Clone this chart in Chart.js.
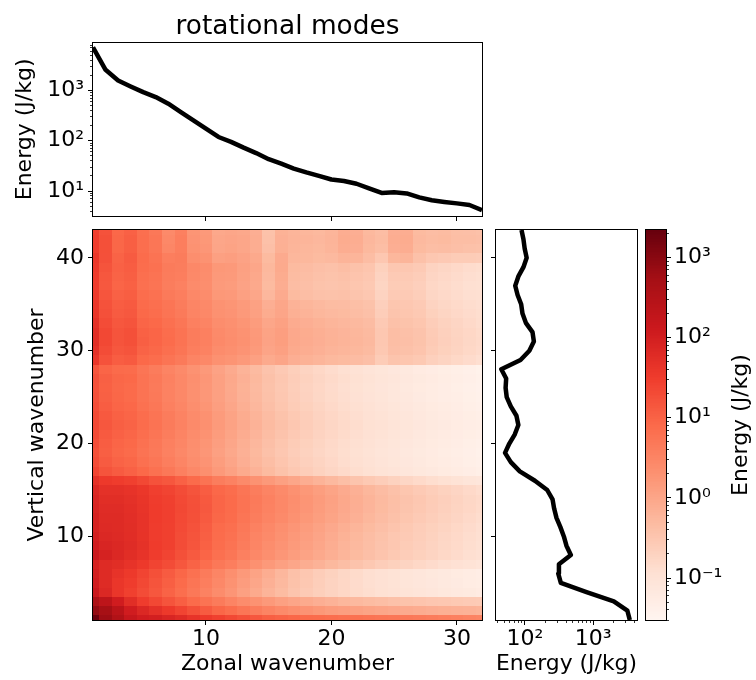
<!DOCTYPE html>
<html>
<head>
<meta charset="utf-8">
<script src="https://cdn.jsdelivr.net/npm/chart.js@4.4.1/dist/chart.umd.min.js"></script>
<style>
  body { margin: 0; background: #fff; }
  #fig { position: relative; width: 756px; height: 680px; }
  canvas { position: absolute; }
</style>
</head>
<body>
<div id="fig">
  <canvas id="topChart" width="490" height="228" style="left:0;top:0"></canvas>
  <canvas id="heatChart" width="490" height="452" style="left:0;top:228px"></canvas>
  <canvas id="sideChart" width="152" height="452" style="left:490px;top:228px"></canvas>
  <canvas id="cbarChart" width="116" height="452" style="left:640px;top:228px"></canvas>
</div>
<script>
// zonal wavenumbers (x) and vertical wavenumbers (y)
const zonalWavenumbers = Array.from({ length: 32 }, (_, i) => i + 1);
const verticalWavenumbers = Array.from({ length: 43 }, (_, i) => i + 1);

// energy summed over vertical wavenumbers, per zonal wavenumber (J/kg)
const zonalEnergy = [7200, 2570, 1580, 1200, 925, 740, 545, 372, 254, 174, 119, 95, 73, 57, 43, 35,
  28, 23.5, 20, 17, 15.9, 14, 11.3, 9.2, 9.5, 9.0, 7.5, 6.6, 6.1, 5.7, 5.3, 4.2];

// energy summed over zonal wavenumbers, per vertical wavenumber (J/kg)
const verticalEnergy = [3450, 3180, 2010, 800, 336, 308, 315, 471, 406, 372, 331, 290, 268, 254, 212, 140,
  84, 62, 51, 59, 71, 80, 75, 62, 54, 52, 53, 45, 86, 116, 135, 129, 103, 92, 88, 78, 72, 80, 95, 106, 99, 95, 89];

// log10 of energy (J/kg); one row per vertical wavenumber (1 at the bottom), 32 zonal wavenumbers each
const heatLog10 = [
  [3.3, 2.8, 2.55, 2.2, 2.05, 2.0, 1.9, 1.8, 1.65, 1.55, 1.45, 1.35, 1.25, 1.15, 1.05, 1.0, 0.95, 0.9, 0.88, 0.85, 0.82, 0.8, 0.77, 0.74, 0.72, 0.7, 0.67, 0.64, 0.6, 0.57, 0.53, 0.5],
  [2.9, 2.7, 2.4, 2.05, 1.85, 1.7, 1.55, 1.4, 1.25, 1.1, 0.95, 0.85, 0.72, 0.62, 0.52, 0.42, 0.35, 0.28, 0.22, 0.16, 0.12, 0.08, 0.04, 0.0, -0.03, -0.06, -0.09, -0.12, -0.14, -0.16, -0.18, -0.2],
  [2.6, 2.35, 2.05, 1.75, 1.5, 1.35, 1.2, 1.05, 0.9, 0.78, 0.65, 0.52, 0.4, 0.3, 0.2, 0.1, 0.02, -0.05, -0.12, -0.18, -0.24, -0.28, -0.32, -0.36, -0.4, -0.43, -0.46, -0.49, -0.51, -0.53, -0.55, -0.57],
  [2.15, 1.85, 1.6, 1.45, 1.3, 1.15, 1.0, 0.85, 0.7, 0.55, 0.4, 0.25, 0.1, -0.05, -0.2, -0.32, -0.45, -0.55, -0.63, -0.7, -0.77, -0.83, -0.88, -0.93, -0.98, -1.02, -1.06, -1.1, -1.14, -1.17, -1.2, -1.23],
  [2.05, 1.8, 1.6, 1.5, 1.35, 1.2, 1.05, 0.9, 0.75, 0.6, 0.45, 0.3, 0.15, 0.0, -0.15, -0.28, -0.42, -0.52, -0.62, -0.7, -0.77, -0.84, -0.9, -0.95, -1.0, -1.05, -1.09, -1.13, -1.17, -1.21, -1.25, -1.28],
  [2.0, 1.8, 1.65, 1.55, 1.4, 1.25, 1.1, 0.95, 0.8, 0.65, 0.5, 0.35, 0.2, 0.05, -0.1, -0.25, -0.4, -0.5, -0.6, -0.68, -0.76, -0.83, -0.9, -0.95, -1.0, -1.05, -1.1, -1.14, -1.18, -1.22, -1.26, -1.3],
  [1.95, 1.8, 1.75, 1.65, 1.55, 1.4, 1.3, 1.15, 1.0, 0.85, 0.7, 0.6, 0.45, 0.32, 0.2, 0.1, 0.0, -0.1, -0.18, -0.27, -0.36, -0.44, -0.52, -0.6, -0.66, -0.72, -0.78, -0.84, -0.9, -0.95, -1.0, -1.05],
  [2.15, 1.95, 1.85, 1.75, 1.65, 1.5, 1.4, 1.25, 1.12, 0.98, 0.82, 0.72, 0.58, 0.45, 0.34, 0.24, 0.14, 0.05, -0.04, -0.13, -0.22, -0.3, -0.38, -0.46, -0.53, -0.6, -0.66, -0.72, -0.78, -0.84, -0.9, -0.95],
  [2.05, 1.9, 1.85, 1.78, 1.68, 1.52, 1.45, 1.3, 1.18, 1.03, 0.86, 0.78, 0.63, 0.5, 0.38, 0.28, 0.18, 0.09, 0.0, -0.1, -0.2, -0.28, -0.36, -0.44, -0.51, -0.58, -0.64, -0.7, -0.76, -0.82, -0.88, -0.93],
  [2.0, 1.85, 1.82, 1.76, 1.66, 1.5, 1.45, 1.3, 1.2, 1.05, 0.88, 0.8, 0.66, 0.52, 0.42, 0.31, 0.21, 0.12, 0.03, -0.07, -0.17, -0.26, -0.34, -0.42, -0.5, -0.56, -0.62, -0.68, -0.75, -0.8, -0.86, -0.92],
  [1.95, 1.82, 1.8, 1.75, 1.65, 1.5, 1.45, 1.32, 1.22, 1.08, 0.9, 0.83, 0.7, 0.56, 0.46, 0.35, 0.25, 0.16, 0.07, -0.03, -0.13, -0.22, -0.3, -0.38, -0.46, -0.53, -0.6, -0.66, -0.72, -0.78, -0.84, -0.9],
  [1.95, 1.8, 1.8, 1.74, 1.65, 1.52, 1.46, 1.34, 1.25, 1.12, 0.95, 0.88, 0.75, 0.62, 0.52, 0.42, 0.32, 0.22, 0.13, 0.04, -0.06, -0.15, -0.24, -0.33, -0.41, -0.48, -0.55, -0.62, -0.68, -0.74, -0.8, -0.86],
  [1.92, 1.78, 1.78, 1.72, 1.64, 1.52, 1.46, 1.35, 1.26, 1.14, 0.98, 0.9, 0.78, 0.65, 0.55, 0.45, 0.35, 0.25, 0.16, 0.07, -0.03, -0.12, -0.21, -0.3, -0.38, -0.45, -0.52, -0.59, -0.65, -0.71, -0.77, -0.83],
  [1.9, 1.75, 1.75, 1.7, 1.62, 1.5, 1.45, 1.34, 1.25, 1.13, 0.98, 0.9, 0.78, 0.66, 0.56, 0.46, 0.36, 0.26, 0.17, 0.08, -0.02, -0.11, -0.2, -0.29, -0.37, -0.44, -0.51, -0.58, -0.64, -0.7, -0.76, -0.82],
  [1.85, 1.7, 1.7, 1.65, 1.58, 1.46, 1.4, 1.3, 1.2, 1.08, 0.93, 0.86, 0.74, 0.62, 0.52, 0.42, 0.32, 0.22, 0.13, 0.04, -0.06, -0.15, -0.24, -0.33, -0.41, -0.48, -0.55, -0.62, -0.68, -0.74, -0.8, -0.86],
  [1.7, 1.55, 1.5, 1.45, 1.35, 1.22, 1.15, 1.02, 0.9, 0.78, 0.62, 0.55, 0.42, 0.3, 0.2, 0.1, 0.0, -0.1, -0.19, -0.28, -0.37, -0.45, -0.53, -0.61, -0.68, -0.75, -0.82, -0.88, -0.94, -1.0, -1.05, -1.1],
  [1.4, 1.2, 1.1, 1.02, 0.92, 0.8, 0.7, 0.58, 0.45, 0.35, 0.2, 0.08, -0.05, -0.18, -0.3, -0.42, -0.52, -0.6, -0.68, -0.75, -0.82, -0.88, -0.94, -0.99, -1.04, -1.09, -1.14, -1.18, -1.22, -1.26, -1.3, -1.34],
  [1.3, 1.1, 1.0, 0.95, 0.82, 0.72, 0.6, 0.5, 0.38, 0.28, 0.14, 0.02, -0.12, -0.24, -0.36, -0.47, -0.57, -0.65, -0.72, -0.79, -0.86, -0.92, -0.98, -1.03, -1.08, -1.13, -1.18, -1.22, -1.26, -1.3, -1.34, -1.38],
  [1.25, 1.05, 0.95, 0.9, 0.78, 0.68, 0.56, 0.46, 0.34, 0.24, 0.1, -0.02, -0.15, -0.27, -0.4, -0.5, -0.6, -0.68, -0.75, -0.82, -0.88, -0.94, -1.0, -1.05, -1.1, -1.15, -1.2, -1.24, -1.28, -1.32, -1.36, -1.4],
  [1.28, 1.08, 0.98, 0.92, 0.8, 0.7, 0.58, 0.48, 0.36, 0.26, 0.12, 0.0, -0.13, -0.25, -0.38, -0.48, -0.58, -0.66, -0.73, -0.8, -0.86, -0.92, -0.98, -1.03, -1.08, -1.13, -1.18, -1.22, -1.26, -1.3, -1.34, -1.38],
  [1.32, 1.12, 1.02, 0.96, 0.85, 0.75, 0.62, 0.52, 0.4, 0.3, 0.16, 0.04, -0.09, -0.21, -0.34, -0.44, -0.54, -0.62, -0.7, -0.77, -0.83, -0.89, -0.95, -1.0, -1.05, -1.1, -1.15, -1.19, -1.23, -1.27, -1.31, -1.35],
  [1.35, 1.15, 1.05, 1.0, 0.88, 0.78, 0.65, 0.55, 0.43, 0.33, 0.19, 0.07, -0.06, -0.18, -0.31, -0.41, -0.51, -0.6, -0.68, -0.75, -0.81, -0.87, -0.93, -0.98, -1.03, -1.08, -1.13, -1.17, -1.21, -1.25, -1.29, -1.33],
  [1.33, 1.13, 1.03, 0.98, 0.86, 0.76, 0.63, 0.53, 0.41, 0.31, 0.17, 0.05, -0.08, -0.2, -0.33, -0.43, -0.53, -0.62, -0.7, -0.77, -0.83, -0.89, -0.95, -1.0, -1.05, -1.1, -1.15, -1.19, -1.23, -1.27, -1.31, -1.35],
  [1.28, 1.08, 0.98, 0.93, 0.81, 0.71, 0.58, 0.48, 0.36, 0.26, 0.12, 0.0, -0.13, -0.25, -0.38, -0.48, -0.58, -0.66, -0.73, -0.8, -0.86, -0.92, -0.98, -1.03, -1.08, -1.13, -1.18, -1.22, -1.26, -1.3, -1.34, -1.38],
  [1.24, 1.04, 0.95, 0.9, 0.78, 0.68, 0.55, 0.45, 0.33, 0.23, 0.09, -0.03, -0.16, -0.28, -0.41, -0.51, -0.61, -0.69, -0.76, -0.83, -0.89, -0.95, -1.01, -1.06, -1.11, -1.16, -1.21, -1.25, -1.29, -1.33, -1.37, -1.41],
  [1.23, 1.03, 0.94, 0.9, 0.77, 0.67, 0.55, 0.45, 0.33, 0.23, 0.09, -0.04, -0.17, -0.29, -0.42, -0.52, -0.62, -0.7, -0.77, -0.84, -0.9, -0.96, -1.02, -1.07, -1.12, -1.17, -1.22, -1.26, -1.3, -1.34, -1.38, -1.42],
  [1.24, 1.04, 0.95, 0.92, 0.78, 0.68, 0.56, 0.46, 0.34, 0.24, 0.1, -0.02, -0.15, -0.27, -0.4, -0.5, -0.6, -0.68, -0.75, -0.82, -0.88, -0.94, -1.0, -1.05, -1.1, -1.15, -1.2, -1.24, -1.28, -1.32, -1.36, -1.4],
  [1.18, 0.98, 0.9, 0.88, 0.74, 0.64, 0.52, 0.42, 0.3, 0.2, 0.06, -0.06, -0.19, -0.31, -0.44, -0.54, -0.63, -0.71, -0.78, -0.85, -0.91, -0.97, -1.03, -1.08, -1.13, -1.18, -1.23, -1.27, -1.31, -1.35, -1.39, -1.43],
  [1.6, 1.22, 1.08, 1.12, 0.92, 0.86, 0.76, 0.66, 0.52, 0.46, 0.32, 0.27, 0.2, 0.1, -0.05, 0.02, -0.12, -0.17, -0.22, -0.27, -0.3, -0.33, -0.38, -0.58, -0.45, -0.48, -0.53, -0.65, -0.72, -0.78, -0.84, -0.9],
  [1.7, 1.3, 1.15, 1.2, 1.0, 0.94, 0.84, 0.74, 0.6, 0.54, 0.4, 0.35, 0.28, 0.18, 0.03, 0.1, -0.05, -0.1, -0.15, -0.2, -0.23, -0.26, -0.31, -0.52, -0.38, -0.41, -0.46, -0.58, -0.66, -0.72, -0.78, -0.84],
  [1.75, 1.35, 1.2, 1.25, 1.05, 0.98, 0.88, 0.78, 0.64, 0.58, 0.44, 0.38, 0.31, 0.21, 0.06, 0.13, -0.02, -0.07, -0.12, -0.17, -0.2, -0.23, -0.28, -0.5, -0.35, -0.38, -0.43, -0.56, -0.64, -0.7, -0.76, -0.82],
  [1.75, 1.35, 1.2, 1.25, 1.03, 0.97, 0.87, 0.77, 0.63, 0.57, 0.43, 0.37, 0.3, 0.2, 0.05, 0.12, -0.03, -0.08, -0.13, -0.18, -0.21, -0.24, -0.29, -0.5, -0.36, -0.39, -0.44, -0.57, -0.65, -0.71, -0.77, -0.83],
  [1.7, 1.3, 1.15, 1.2, 0.98, 0.92, 0.82, 0.72, 0.58, 0.52, 0.38, 0.33, 0.26, 0.16, 0.0, 0.08, -0.07, -0.12, -0.17, -0.22, -0.25, -0.28, -0.33, -0.54, -0.4, -0.43, -0.48, -0.6, -0.68, -0.74, -0.8, -0.86],
  [1.62, 1.24, 1.1, 1.14, 0.92, 0.86, 0.76, 0.66, 0.52, 0.46, 0.32, 0.28, 0.2, 0.1, -0.08, 0.02, -0.14, -0.19, -0.24, -0.28, -0.3, -0.34, -0.39, -0.6, -0.45, -0.48, -0.53, -0.66, -0.73, -0.79, -0.84, -0.88],
  [1.6, 1.22, 1.08, 1.12, 0.9, 0.84, 0.74, 0.64, 0.5, 0.44, 0.3, 0.26, 0.18, 0.08, -0.12, 0.0, -0.18, -0.23, -0.28, -0.32, -0.33, -0.37, -0.42, -0.64, -0.48, -0.5, -0.56, -0.7, -0.76, -0.82, -0.86, -0.9],
  [1.55, 1.18, 1.02, 1.07, 0.86, 0.8, 0.66, 0.6, 0.45, 0.4, 0.22, 0.2, 0.1, 0.0, -0.25, -0.06, -0.3, -0.35, -0.4, -0.42, -0.4, -0.45, -0.5, -0.7, -0.55, -0.56, -0.62, -0.75, -0.8, -0.85, -0.9, -0.92],
  [1.5, 1.14, 0.98, 1.03, 0.82, 0.76, 0.62, 0.56, 0.41, 0.36, 0.18, 0.16, 0.06, -0.04, -0.3, -0.1, -0.34, -0.38, -0.43, -0.45, -0.43, -0.48, -0.53, -0.73, -0.58, -0.58, -0.64, -0.77, -0.82, -0.87, -0.92, -0.94],
  [1.52, 1.16, 1.0, 1.05, 0.84, 0.78, 0.64, 0.6, 0.44, 0.38, 0.2, 0.18, 0.08, -0.02, -0.28, -0.08, -0.32, -0.36, -0.41, -0.43, -0.41, -0.46, -0.5, -0.7, -0.55, -0.55, -0.6, -0.74, -0.79, -0.84, -0.89, -0.91],
  [1.55, 1.2, 1.02, 1.08, 0.87, 0.8, 0.65, 0.62, 0.46, 0.4, 0.22, 0.2, 0.1, 0.0, -0.26, -0.05, -0.3, -0.33, -0.38, -0.4, -0.36, -0.42, -0.47, -0.66, -0.5, -0.5, -0.56, -0.7, -0.75, -0.8, -0.85, -0.88],
  [1.58, 1.24, 1.0, 1.1, 0.88, 0.78, 0.6, 0.64, 0.36, 0.3, 0.1, 0.12, 0.06, -0.04, -0.3, -0.06, -0.24, -0.26, -0.3, -0.28, -0.2, -0.22, -0.34, -0.5, -0.24, -0.22, -0.4, -0.5, -0.54, -0.58, -0.58, -0.6],
  [1.5, 1.25, 0.95, 1.05, 0.85, 0.72, 0.48, 0.6, 0.3, 0.24, 0.02, 0.05, 0.0, -0.1, -0.38, -0.14, -0.22, -0.24, -0.27, -0.22, -0.1, -0.12, -0.27, -0.36, -0.12, -0.1, -0.3, -0.36, -0.34, -0.38, -0.4, -0.42],
  [1.5, 1.25, 0.95, 1.05, 0.85, 0.72, 0.45, 0.6, 0.28, 0.22, 0.0, 0.03, 0.0, -0.1, -0.4, -0.15, -0.2, -0.22, -0.25, -0.2, -0.08, -0.1, -0.25, -0.32, -0.1, -0.08, -0.28, -0.32, -0.3, -0.35, -0.36, -0.38],
  [1.48, 1.22, 0.93, 1.02, 0.83, 0.7, 0.43, 0.58, 0.26, 0.2, -0.02, 0.01, -0.02, -0.12, -0.42, -0.17, -0.22, -0.24, -0.27, -0.22, -0.1, -0.12, -0.27, -0.34, -0.12, -0.1, -0.3, -0.34, -0.32, -0.37, -0.38, -0.4]
];

// tick labels
const zonalTicks = [10, 20, 30];
const verticalTicks = [10, 20, 30, 40];
const topEnergyTicks = [10, 100, 1000];
const sideEnergyTicks = [100, 1000];
const cbarTicks = [0.1, 1, 10, 100, 1000];

const cbarMin = 0.03, cbarMax = 2200;

Chart.defaults.font.family = "'DejaVu Sans', sans-serif";
Chart.defaults.color = '#000';

// matplotlib "Reds"
const REDS = ['#fff5f0', '#fee0d2', '#fcbba1', '#fc9272', '#fb6a4a', '#ef3b2c', '#cb181d', '#a50f15', '#67000d'];
const REDS_RGB = REDS.map(h => [1, 3, 5].map(i => parseInt(h.slice(i, i + 2), 16)));
function reds(t) {
  t = Math.min(1, Math.max(0, t));
  const s = t * 8, i = Math.min(7, Math.floor(s)), f = s - i;
  const a = REDS_RGB[i], b = REDS_RGB[i + 1];
  return 'rgb(' + a.map((c, k) => Math.round(c + (b[k] - c) * f)).join(',') + ')';
}
function energyNorm(v) {
  return (Math.log10(v) - Math.log10(cbarMin)) / (Math.log10(cbarMax) - Math.log10(cbarMin));
}

const SUP = { '-': '\u207b', '0': '\u2070', '1': '\u00b9', '2': '\u00b2', '3': '\u00b3', '4': '\u2074' };
function pow10Label(v) {
  const e = String(Math.round(Math.log10(v)));
  return '10' + e.split('').map(c => SUP[c]).join('');
}
function minorValues(min, max) {
  const out = [];
  for (let e = Math.floor(Math.log10(min)); e <= Math.ceil(Math.log10(max)); e++) {
    for (let m = 2; m <= 9; m++) {
      const v = m * Math.pow(10, e);
      if (v >= min && v <= max) out.push(v);
    }
  }
  return out;
}
const fixedTicks = values => scale => { scale.ticks = values.map(v => ({ value: v })); };
const tickGrid = len => ({ drawOnChartArea: false, drawTicks: true, tickLength: len, color: '#000', tickWidth: 1 });

// fixed box size, and no extra room for labels hanging past the ends
function fitBox(size) {
  return s => {
    if (s.isHorizontal()) s.height = size; else s.width = size;
    s.paddingTop = s.paddingBottom = s.paddingLeft = s.paddingRight = 0;
  };
}

// thin axis with the short minor ticks of a log scale, laid right against the frame
function minorAxis(axis, position, min, max) {
  return {
    type: 'logarithmic', axis, position, min, max, bounds: 'data',
    afterBuildTicks: fixedTicks(minorValues(min, max)),
    afterFit: fitBox(0),
    ticks: { display: false },
    grid: { drawOnChartArea: false, drawTicks: true, tickLength: 3, color: '#000', tickWidth: 0.8 },
    border: { display: false }
  };
}

const framePlugin = {
  id: 'frame',
  afterDraw(chart) {
    const { ctx, chartArea: a } = chart;
    ctx.save();
    ctx.strokeStyle = '#000';
    ctx.lineWidth = 1;
    ctx.strokeRect(Math.round(a.left) - 0.5, Math.round(a.top) - 0.5,
      Math.round(a.right - a.left) + 1, Math.round(a.bottom - a.top) + 1);
    ctx.restore();
  }
};

const heatmapPlugin = {
  id: 'heatCells',
  beforeDatasetsDraw(chart) {
    const { ctx, chartArea: a, scales: { x, y } } = chart;
    ctx.save();
    ctx.beginPath();
    ctx.rect(a.left, a.top, a.right - a.left, a.bottom - a.top);
    ctx.clip();
    chart.data.datasets[0].data.forEach(c => {
      const x0 = Math.round(x.getPixelForValue(c.x - 0.5));
      const x1 = Math.round(x.getPixelForValue(c.x + 0.5));
      const y0 = Math.round(y.getPixelForValue(c.y - 0.5));
      const y1 = Math.round(y.getPixelForValue(c.y + 0.5));
      ctx.fillStyle = reds(energyNorm(c.v));
      ctx.fillRect(x0, y1, x1 - x0, y0 - y1);
    });
    ctx.restore();
  }
};

const colorbarPlugin = {
  id: 'cbarFill',
  beforeDatasetsDraw(chart) {
    const { ctx, chartArea: a, scales: { y } } = chart;
    const lo = Math.log10(cbarMin), hi = Math.log10(cbarMax), n = 240;
    for (let i = 0; i < n; i++) {
      const yA = y.getPixelForValue(Math.pow(10, lo + (hi - lo) * i / n));
      const yB = y.getPixelForValue(Math.pow(10, lo + (hi - lo) * (i + 1) / n));
      ctx.fillStyle = reds((i + 0.5) / n);
      ctx.fillRect(a.left, Math.floor(yB), a.right - a.left, Math.ceil(yA) - Math.floor(yB));
    }
  },
  afterDraw(chart) {
    const ctx = chart.ctx;
    ctx.save();
    ctx.translate(101, 197);
    ctx.rotate(-Math.PI / 2);
    ctx.font = "22px 'DejaVu Sans', sans-serif";
    ctx.fillStyle = '#000';
    ctx.textAlign = 'center';
    ctx.textBaseline = 'middle';
    ctx.fillText('Energy (J/kg)', 0, 0);
    ctx.restore();
  }
};

const lineStyle = { borderColor: '#000', borderWidth: 4.5, pointRadius: 0, borderJoinStyle: 'round', showLine: true, clip: 0 };
const common = { responsive: false, animation: false, events: [] };
const noLegend = { legend: { display: false }, tooltip: { enabled: false } };

// upper panel: energy per zonal wavenumber
new Chart(document.getElementById('topChart'), {
  type: 'scatter',
  data: { datasets: [{ ...lineStyle, xAxisID: 'x', yAxisID: 'y',
    data: zonalWavenumbers.map((k, i) => ({ x: k, y: zonalEnergy[i] })) }] },
  options: {
    ...common,
    layout: { padding: { left: 0, right: 8, top: 0, bottom: 0 } },
    plugins: { ...noLegend,
      title: { display: true, text: 'rotational modes', fullSize: false, color: '#000',
        font: { size: 26.4, weight: 'normal' }, padding: { top: 11, bottom: 0 } } },
    scales: {
      x: { type: 'linear', position: 'bottom', min: 1, max: 32,
        afterBuildTicks: fixedTicks(zonalTicks), afterFit: fitBox(12),
        ticks: { callback: () => '' }, grid: tickGrid(5), border: { display: false } },
      yMinor: minorAxis('y', 'left', 3.2, 8900),
      y: { type: 'logarithmic', position: 'left', min: 3.2, max: 8900, bounds: 'data',
        afterBuildTicks: fixedTicks(topEnergyTicks), afterFit: fitBox(93),
        ticks: { callback: v => pow10Label(v), font: { size: 22 }, padding: 4, autoSkip: false },
        grid: tickGrid(5), border: { display: false },
        title: { display: true, text: 'Energy (J/kg)', font: { size: 22 }, padding: { top: 12 } } }
    }
  },
  plugins: [framePlugin]
});

// main panel: energy per zonal and vertical wavenumber
new Chart(document.getElementById('heatChart'), {
  type: 'scatter',
  data: { datasets: [{ pointRadius: 0, xAxisID: 'x', yAxisID: 'y',
    data: heatLog10.flatMap((row, r) => row.map((L, c) => ({ x: zonalWavenumbers[c], y: verticalWavenumbers[r], v: Math.pow(10, L) }))) }] },
  options: {
    ...common,
    layout: { padding: { left: 0, right: 8, top: 2, bottom: 0 } },
    plugins: noLegend,
    scales: {
      x: { type: 'linear', position: 'bottom', min: 1, max: 32,
        afterBuildTicks: fixedTicks(zonalTicks), afterFit: fitBox(60),
        ticks: { callback: v => String(v), font: { size: 22 }, padding: 1, maxRotation: 0, autoSkip: false },
        grid: tickGrid(5), border: { display: false },
        title: { display: true, text: 'Zonal wavenumber', font: { size: 22 }, padding: { bottom: 3 } } },
      y: { type: 'linear', position: 'left', min: 1, max: 43,
        afterBuildTicks: fixedTicks(verticalTicks), afterFit: fitBox(93),
        ticks: { callback: v => String(v), font: { size: 22 }, padding: 4, autoSkip: false },
        grid: tickGrid(5), border: { display: false },
        title: { display: true, text: 'Vertical wavenumber', font: { size: 22 }, padding: { top: 24 } } }
    }
  },
  plugins: [heatmapPlugin, framePlugin]
});

// right panel: energy per vertical wavenumber
new Chart(document.getElementById('sideChart'), {
  type: 'scatter',
  data: { datasets: [{ ...lineStyle, xAxisID: 'x', yAxisID: 'y',
    data: verticalWavenumbers.map((k, i) => ({ x: verticalEnergy[i], y: k })) }] },
  options: {
    ...common,
    layout: { padding: { left: 0, right: 5, top: 2, bottom: 0 } },
    plugins: noLegend,
    scales: {
      xMinor: minorAxis('x', 'bottom', 37.6, 4400),
      x: { type: 'logarithmic', position: 'bottom', min: 37.6, max: 4400, bounds: 'data',
        afterBuildTicks: fixedTicks(sideEnergyTicks), afterFit: fitBox(60),
        ticks: { callback: v => pow10Label(v), font: { size: 22 }, padding: 1, maxRotation: 0, autoSkip: false },
        grid: tickGrid(5), border: { display: false },
        title: { display: true, text: 'Energy (J/kg)', font: { size: 22 }, padding: { bottom: 3 } } },
      y: { type: 'linear', position: 'left', min: 1, max: 43,
        afterBuildTicks: fixedTicks(verticalTicks), afterFit: fitBox(6),
        ticks: { callback: () => '' }, grid: tickGrid(5), border: { display: false } }
    }
  },
  plugins: [framePlugin]
});

// colour bar
new Chart(document.getElementById('cbarChart'), {
  type: 'scatter',
  data: { datasets: [{ data: [], yAxisID: 'y', xAxisID: 'x' }] },
  options: {
    ...common,
    layout: { padding: { left: 6, right: 0, top: 2, bottom: 60 } },
    plugins: noLegend,
    scales: {
      x: { type: 'linear', display: false, min: 0, max: 1 },
      yMinor: minorAxis('y', 'right', cbarMin, cbarMax),
      y: { type: 'logarithmic', position: 'right', min: cbarMin, max: cbarMax, bounds: 'data',
        afterBuildTicks: fixedTicks(cbarTicks), afterFit: fitBox(90),
        ticks: { callback: v => pow10Label(v), font: { size: 22 }, padding: 3, autoSkip: false },
        grid: tickGrid(5), border: { display: false } }
    }
  },
  plugins: [colorbarPlugin, framePlugin]
});
</script>
</body>
</html>
